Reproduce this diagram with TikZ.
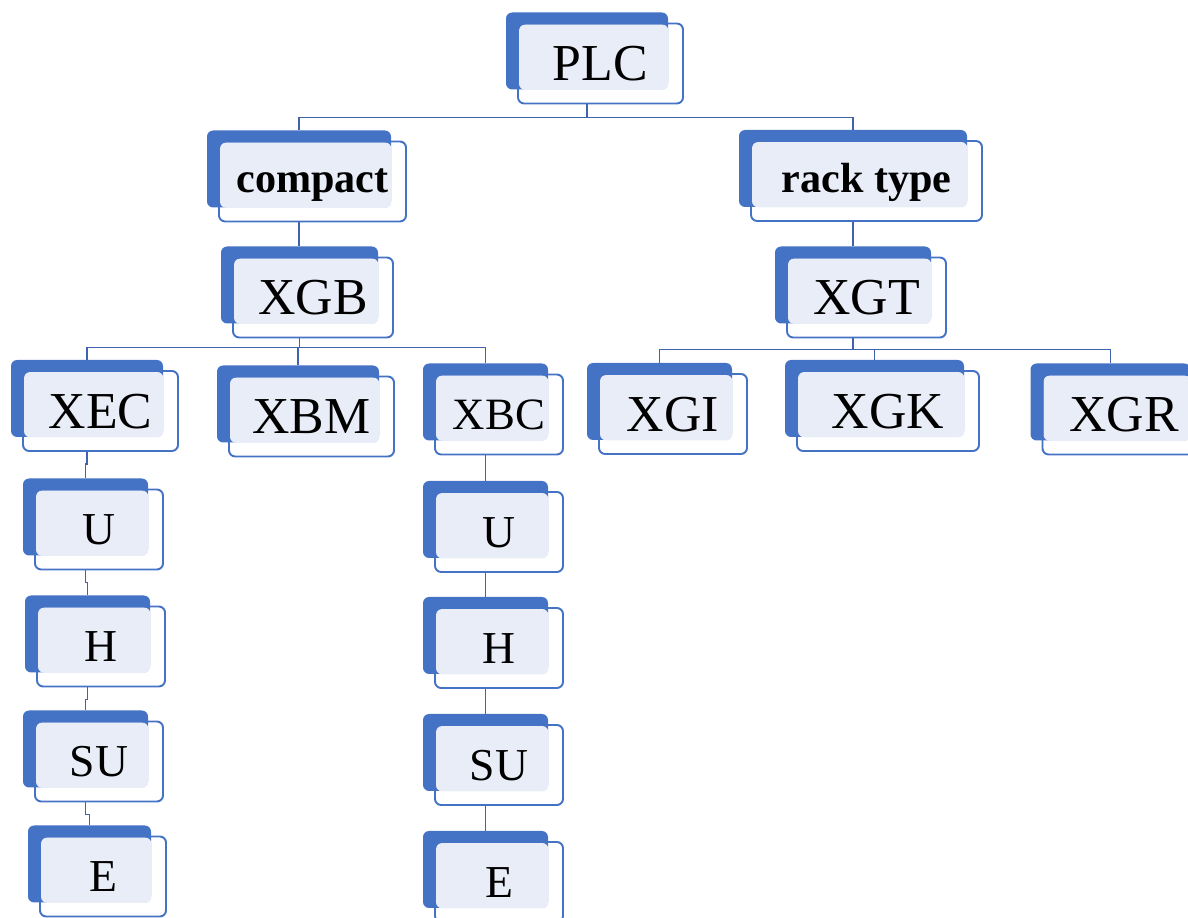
\documentclass[tikz,border=0pt]{standalone}
\usepackage{fontspec}
\setmainfont{Liberation Serif}
\usepackage{tikz}
\usetikzlibrary{calc}

\definecolor{backblue}{HTML}{4472C4}
\definecolor{lightfill}{HTML}{E9EDF7}
\definecolor{linkblue}{HTML}{3F63AE}

% one box of the tree: blue card behind, light card in front
% #1 text style, #2 name, #3 x, #4 y, #5 width, #6 text
\newcommand{\plcbox}[6][]{%
  \node[backbox, minimum width={(#5-3)*0.02cm}] (#2-b) at (#3-13.5,#4-12.5) {};
  \fill[lightfill, rounded corners=3.5pt] (#3-#5/2+1,#4-39) rectangle (#2-b.south east);
  \node[frontbox, minimum width={#5*0.02cm}, #1] (#2) at (#3,#4) {#6};
}

\begin{document}
\begin{tikzpicture}[x=0.02cm, y=-0.02cm,
    backbox/.style={fill=backblue, rounded corners=3.5pt, inner sep=0pt,
      minimum height=77*0.02cm},
    frontbox/.style={draw=backblue, line width=1.1pt, rounded corners=3.5pt,
      inner sep=0pt, minimum height=80*0.02cm, text depth=0pt},
    bigtxt/.style={font=\fontsize{29.5}{30}\selectfont, text height=19.5pt},
    midtxt/.style={font=\fontsize{25.5}{26}\selectfont, text height=16.8pt},
    smalltxt/.style={font=\fontsize{26}{27}\selectfont, text height=17.2pt},
    boldtxt/.style={font=\bfseries\fontsize{24}{25}\selectfont, text height=13pt},
    link/.style={draw=linkblue, line width=1pt}]
  \useasboundingbox (0,0) rectangle (1188,918);
  % top levels
  \plcbox[bigtxt]{plc}{600.5}{63.5}{165}{PLC}
  \plcbox[boldtxt]{compact}{312.5}{181.5}{187}{compact}
  \plcbox[boldtxt]{rack}{866.5}{181}{231}{rack type}
  \plcbox[bigtxt]{xgb}{313}{297.5}{160}{XGB}
  \plcbox[bigtxt]{xgt}{866.5}{297.5}{159}{XGT}
  % series
  \plcbox[bigtxt]{xec}{100.5}{411}{155}{XEC}
  \plcbox[bigtxt]{xbm}{311.5}{416.5}{165}{XBM}
  \plcbox[midtxt]{xbc}{499}{414.5}{128}{XBC}
  \plcbox[bigtxt]{xgi}{673}{414}{148}{XGI}
  \plcbox[bigtxt]{xgk}{888}{411}{182}{XGK}
  \plcbox[bigtxt]{xgr}{1124}{414.5}{163}{XGR}
  % XEC models
  \plcbox[smalltxt]{u1}{99}{529.5}{128}{U}
  \plcbox[smalltxt]{h1}{101}{646.5}{128}{H}
  \plcbox[smalltxt]{su1}{99}{761.5}{128}{SU}
  \plcbox[smalltxt]{e1}{103}{876.5}{126}{E}
  % XBC models
  \plcbox[smalltxt]{u2}{499}{532}{128}{U}
  \plcbox[smalltxt]{h2}{499}{648}{128}{H}
  \plcbox[smalltxt]{su2}{499}{765}{128}{SU}
  \plcbox[smalltxt]{e2}{499}{882}{128}{E}

  % connectors
  \draw[link] (plc-b |- plc.south) -- ++(0,13) -| (compact-b.north);
  \draw[link] (plc-b |- plc.south) -- ++(0,13) -| (rack-b.north);
  \draw[link] (compact-b |- compact.south) -- (compact-b |- xgb-b.north);
  \draw[link] (rack-b |- rack.south) -- (xgt-b.north);
  \foreach \c in {xec,xbm,xbc}
    \draw[link] (xgb-b |- xgb.south) -- ++(0,9) -| (\c-b.north);
  \foreach \c in {xgi,xgk,xgr}
    \draw[link] (xgt-b |- xgt.south) -- ++(0,11) -| (\c-b.north);
  \draw[link] (xec-b |- xec.south) -- ++(0,12) -| (u1-b.north);
  \draw[link] (u1-b |- u1.south) -- ++(0,12) -| (h1-b.north);
  \draw[link] (h1-b |- h1.south) -- ++(0,12) -| (su1-b.north);
  \draw[link] (su1-b |- su1.south) -- ++(0,12) -| (e1-b.north);
  \draw[link] (xbc-b |- xbc.south) -- (u2-b.north);
  \draw[link] (u2-b |- u2.south) -- (h2-b.north);
  \draw[link] (h2-b |- h2.south) -- (su2-b.north);
  \draw[link] (su2-b |- su2.south) -- (e2-b.north);
\end{tikzpicture}
\end{document}
